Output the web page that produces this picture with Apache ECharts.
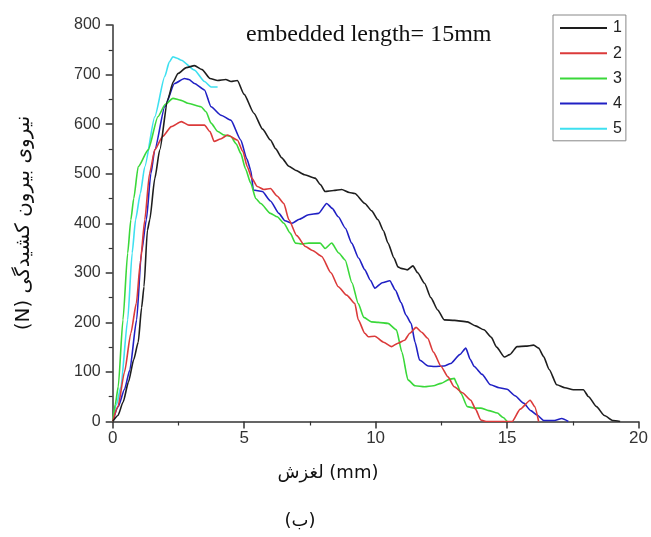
<!DOCTYPE html>
<html><head><meta charset="utf-8">
<script src="https://cdn.jsdelivr.net/npm/echarts@6/dist/echarts.min.js"></script>
<style>html,body{margin:0;padding:0;background:#fff}#c{width:651px;height:537px}</style>
</head><body><div id="c"></div>
<script>
const seriesNames = ['1','2','3','4','5'];
const colors = ['#1e1e1e','#db3a3a','#3ad83a','#2020c4','#3ee0f0'];
const xTicks = [0,5,10,15,20];
const yTicks = [0,100,200,300,400,500,600,700,800];
const s1 = [[0,0],[0.2,12],[0.4,40],[0.6,80],[0.8,125],[0.97,160],[1.1,230],[1.19,272],[1.32,386],[1.41,407],[1.6,490],[1.79,548],[2.09,649],[2.3,685],[2.48,702],[2.8,714],[3.11,718],[3.4,710],[3.7,692],[3.99,688],[4.3,690],[4.5,686],[4.74,688],[5.0,660],[5.37,622],[5.7,590],[6.0,568],[6.2,550],[6.43,532],[6.7,515],[6.95,507],[7.3,498],[7.7,491],[7.9,478],[8.08,464],[8.4,466],[8.71,468],[9.0,462],[9.21,460],[9.59,440],[9.85,425],[10.09,407],[10.3,385],[10.47,360],[10.7,330],[10.85,312],[10.97,309],[11.2,306],[11.42,314],[11.6,300],[11.86,279],[12.1,250],[12.36,225],[12.61,205],[13.0,204],[13.49,201],[13.8,193],[14.12,185],[14.4,170],[14.6,150],[14.9,130],[15.1,135],[15.38,151],[15.7,152],[16.01,154],[16.2,148],[16.39,131],[16.6,105],[16.89,74],[17.2,68],[17.52,64],[17.9,64],[18.1,50],[18.4,30],[18.7,12],[19.03,2],[19.3,0]];
const s2 = [[0,0],[0.2,30],[0.45,100],[0.69,178],[0.9,239],[1.05,320],[1.22,407],[1.4,500],[1.6,548],[1.9,575],[2.23,595],[2.61,605],[2.9,598],[3.11,598],[3.49,598],[3.7,585],[3.86,565],[4.1,570],[4.37,578],[4.74,568],[4.95,545],[5.12,514],[5.3,490],[5.5,474],[5.75,468],[6.0,470],[6.25,455],[6.51,440],[6.7,407],[7.0,375],[7.33,353],[7.6,345],[7.95,333],[8.3,300],[8.58,272],[8.9,255],[9.21,238],[9.34,205],[9.59,178],[9.72,171],[9.97,172],[10.3,160],[10.6,151],[10.85,158],[11.1,164],[11.3,178],[11.54,190],[11.75,180],[11.98,168],[12.2,140],[12.49,111],[12.75,90],[12.99,70],[13.3,58],[13.62,43],[13.8,25],[14.0,3],[14.2,0],[15.19,0],[15.5,25],[15.88,43],[16.05,30],[16.2,0]];
const s3 = [[0,0],[0.1,35],[0.21,70],[0.39,205],[0.57,340],[0.69,407],[0.8,450],[0.97,514],[1.35,548],[1.72,615],[2.0,640],[2.29,652],[2.6,648],[2.86,642],[3.36,635],[3.55,625],[3.74,602],[4.0,585],[4.24,578],[4.49,575],[4.7,560],[4.87,541],[5.05,510],[5.25,481],[5.44,450],[5.63,440],[6.0,420],[6.26,413],[6.51,400],[6.75,380],[6.95,360],[7.2,358],[7.45,360],[7.89,360],[8.08,349],[8.33,360],[8.6,340],[8.84,326],[9.1,280],[9.34,238],[9.55,210],[9.84,201],[10.1,200],[10.47,198],[10.79,185],[11.0,140],[11.23,84],[11.5,72],[11.86,70],[12.2,72],[12.49,77],[12.8,85],[12.99,87],[13.1,75],[13.24,57],[13.49,30],[13.75,27],[14.0,27],[14.3,22],[14.63,17],[14.85,8],[15.0,0]];
const s4 = [[0,0],[0.21,30],[0.45,65],[0.65,104],[0.91,205],[1.09,340],[1.28,407],[1.45,500],[1.6,548],[1.98,635],[2.35,682],[2.73,692],[2.9,690],[3.11,682],[3.49,669],[3.74,635],[4.12,618],[4.49,608],[4.87,568],[5.1,530],[5.25,507],[5.35,467],[5.69,464],[6.0,445],[6.32,420],[6.55,405],[6.82,400],[7.1,408],[7.45,417],[7.83,420],[8.14,440],[8.35,430],[8.58,413],[8.85,390],[9.09,360],[9.35,330],[9.59,306],[9.8,285],[9.97,269],[10.25,280],[10.54,284],[10.75,265],[10.97,240],[11.15,215],[11.35,198],[11.5,160],[11.67,124],[12.0,112],[12.24,111],[12.6,112],[12.86,117],[13.2,135],[13.43,148],[13.6,125],[13.75,111],[14.05,95],[14.37,74],[14.7,68],[15.0,65],[15.3,52],[15.63,37],[15.9,22],[16.14,13],[16.39,2],[16.8,2],[17.08,6],[17.33,0]];
const s5 = [[0,0],[0.15,35],[0.31,70],[0.57,205],[0.74,340],[0.87,407],[1.05,460],[1.22,514],[1.6,615],[1.98,696],[2.15,725],[2.29,736],[2.45,733],[2.61,729],[3.11,709],[3.49,686],[3.74,675],[3.99,675]];
const allData = [s1,s2,s3,s4,s5];
const titleText = 'embedded length= 15mm';
const xName = 'لغزش (mm)';
const yName = '(N) نیروی بیرون کشیدگی';
const captionText = '(ب)';

const chart = echarts.init(document.getElementById('c'), null, {renderer:'canvas'});
const axisCommon = {
  axisLine:{show:true,lineStyle:{color:'#333',width:1.5}},
  axisTick:{show:true,inside:false,length:7,lineStyle:{color:'#333',width:1.5}},
  minorTick:{show:true,splitNumber:2,length:4,lineStyle:{color:'#333',width:1.2}},
  splitLine:{show:false}
};
chart.setOption({
  animation:false,
  backgroundColor:'#fff',
  grid:{left:112.7,right:8.7,top:25,bottom:115.5,containLabel:false},
  xAxis:Object.assign({type:'value',min:xTicks[0],max:xTicks[xTicks.length-1],interval:5,
    axisLabel:{color:'#333',fontSize:17,fontFamily:'Liberation Sans, Arial',margin:8}},axisCommon),
  yAxis:Object.assign({type:'value',min:yTicks[0],max:yTicks[yTicks.length-1],interval:100,
    axisLabel:{color:'#333',fontSize:16,fontFamily:'Liberation Sans, Arial',margin:12}},axisCommon),
  legend:{orient:'vertical',left:553,top:15,
    data:seriesNames.map(n=>({name:n,icon:'rect'})),
    itemWidth:47,itemHeight:2,itemGap:9.2,padding:[5,4,4,7],
    borderColor:'#888',borderWidth:1,backgroundColor:'#fff',
    textStyle:{fontSize:16,lineHeight:16,color:'#222',fontFamily:'Liberation Sans, Arial',padding:[0,0,0,1]}},
  series:allData.map((d,i)=>({name:seriesNames[i],type:'line',data:d,symbol:'none',
    smooth:0.2,smoothMonotone:'x',
    lineStyle:{color:colors[i],width:1.6},itemStyle:{color:colors[i]},z:10-i})),
  graphic:[
    {type:'text',left:246,top:23,style:{text:titleText,font:'24px "Liberation Serif", "Times New Roman", serif',fill:'#111'}},
    {type:'text',x:24,y:223,rotation:Math.PI/2,style:{text:yName,font:'20px "DejaVu Sans", "Noto Sans", sans-serif',fill:'#111',align:'center',verticalAlign:'middle'}},
    {type:'text',x:328,y:473,style:{text:xName,font:'18px "DejaVu Sans", "Noto Sans", sans-serif',fill:'#111',align:'center',verticalAlign:'middle'}},
    {type:'text',x:300,y:521,style:{text:captionText,font:'18px "DejaVu Sans", "Noto Sans", sans-serif',fill:'#111',align:'center',verticalAlign:'middle'}}
  ]
});
</script></body></html>
